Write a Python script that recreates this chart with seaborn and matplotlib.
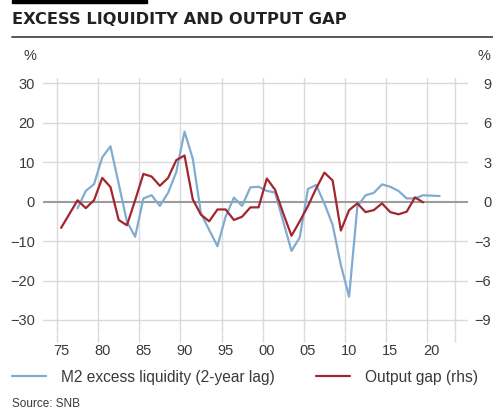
import numpy as np
import pandas as pd
import matplotlib
matplotlib.use("Agg")
import matplotlib.pyplot as plt
from matplotlib.lines import Line2D
import seaborn as sns

# -----------------------------
# data
# -----------------------------
m2_years = list(range(1977, 2022))
m2_excess = [
    -1.7, 2.7, 4.4, 11.2, 14.0, 4.5, -5.1, -8.9, 0.8, 1.6,
    -1.1, 2.2, 7.5, 17.7, 10.9, -3.0, -7.2, -11.3, -3.8, 1.0,
    -1.1, 3.6, 3.75, 2.7, 2.3, -5.1, -12.5, -9.1, 3.2, 4.2,
    -0.5, -5.9, -16.1, -24.1, -1.3, 1.6, 2.2, 4.35, 3.75, 2.7,
    0.8, 0.8, 1.6, 1.5, 1.4,
]

gap_years = list(range(1975, 2020))
output_gap = [
    -2.0, -0.95, 0.1, -0.5, 0.1, 1.8, 1.1, -1.4, -1.8, 0.1,
    2.1, 1.9, 1.2, 1.8, 3.15, 3.5, 0.17, -1.0, -1.5, -0.6,
    -0.6, -1.4, -1.15, -0.44, -0.44, 1.75, 0.9, -0.9, -2.6, -1.5,
    -0.34, 1.0, 2.2, 1.6, -2.2, -0.65, -0.14, -0.8, -0.65, -0.14,
    -0.8, -0.97, -0.77, 0.32, -0.06,
]

left_ticks = [30, 20, 10, 0, -10, -20, -30]
right_ticks = [9, 6, 3, 0, -3, -6, -9]
x_tick_years = [1975, 1980, 1985, 1990, 1995, 2000, 2005, 2010, 2015, 2020]
x_tick_labels = ["75", "80", "85", "90", "95", "00", "05", "10", "15", "20"]

BLUE = "#80acd3"
RED = "#a3262f"
GRID = "#dadada"
TEXT = "#3a3a3a"
W, H = 493, 419


def fx(px):
    return px / W


def fy(py):
    return 1 - py / H


# -----------------------------
# style
# -----------------------------
sns.set_theme(style="white")
plt.rcParams["font.family"] = ["Liberation Sans", "DejaVu Sans"]

m2 = pd.DataFrame({"year": np.array(m2_years) + 0.5, "value": m2_excess})
gap = pd.DataFrame({"year": np.array(gap_years) + 0.5, "value": output_gap})

fig = plt.figure(figsize=(W / 100, H / 100), dpi=100)
ax = fig.add_axes([fx(43), fy(335), (468 - 43) / W, (335 - 78) / H])
ax2 = ax.twinx()

ylo, yhi = -33.8, 31.3
ax.set_ylim(ylo, yhi)
ax2.set_ylim(ylo * 0.3, yhi * 0.3)
ax.set_xlim(1973.3, 2024.95)

# grid
for y in left_ticks:
    if y != 0:
        ax.axhline(y, color=GRID, lw=1.0, zorder=0)
for x in x_tick_years + [2023.4]:
    ax.axvline(x, color=GRID, lw=1.0, zorder=0)
ax.axhline(0, color="#9c9c9c", lw=1.5, zorder=1)

sns.lineplot(data=m2, x="year", y="value", ax=ax, color=BLUE, lw=1.6, zorder=3)
sns.lineplot(data=gap, x="year", y="value", ax=ax2, color=RED, lw=1.6, zorder=4)

for a in (ax, ax2):
    for s in a.spines.values():
        s.set_visible(False)
    a.set_xlabel("")
    a.set_ylabel("")

ax.set_yticks(left_ticks)
ax.set_yticklabels([str(t).replace("-", "\u2212") for t in left_ticks])
ax.tick_params(axis="y", length=0, pad=5.8, labelsize=10.5, labelcolor=TEXT)

ax2.set_yticks(right_ticks)
ax2.set_yticklabels([str(t).replace("-", "\u2212") for t in right_ticks])
ax2.tick_params(axis="y", length=0, pad=16.8, labelsize=10.5, labelcolor=TEXT)
for lbl in ax2.get_yticklabels():
    lbl.set_horizontalalignment("right")

# x: tick marks at year starts, labels at mid-year
ax.set_xticks(x_tick_years + [2023.4])
ax.set_xticklabels([""] * (len(x_tick_years) + 1))
ax.tick_params(axis="x", which="major", direction="out", length=5, width=1,
               color=GRID, bottom=True)
ax.set_xticks([y + 0.5 for y in x_tick_years], minor=True)
ax.set_xticklabels(x_tick_labels, minor=True)
ax.tick_params(axis="x", which="minor", length=0, pad=6.5, labelsize=10.5,
               labelcolor=TEXT)

# header
fig.patches.append(plt.Rectangle((fx(12), fy(3)), 135 / W, 3 / H,
                                 transform=fig.transFigure, color="black"))
fig.text(fx(12), fy(19), "EXCESS LIQUIDITY AND OUTPUT GAP", family="DejaVu Sans",
         fontsize=11.7, fontweight="bold", color="#222222", va="center", ha="left")
fig.add_artist(Line2D([fx(12), 1.0], [fy(37.3)] * 2,
                      transform=fig.transFigure, color="#4a4a4a", lw=1.3))

fig.text(fx(30), fy(56), "%", fontsize=10.5, color=TEXT, ha="center", va="center")
fig.text(fx(477), fy(56), "%", fontsize=10.5, color=TEXT, ha="left", va="center")

# legend
handles = [Line2D([], [], color=BLUE, lw=1.6), Line2D([], [], color=RED, lw=1.6)]
fig.legend(handles, ["M2 excess liquidity (2-year lag)", "Output gap (rhs)"],
           loc="center left", bbox_to_anchor=(fx(12), fy(377)), ncol=2,
           frameon=False, fontsize=11.2, handlelength=2.2, handletextpad=0.97,
           columnspacing=2.6, borderpad=0, borderaxespad=0, labelcolor=TEXT)

fig.text(fx(12), fy(404), "Source: SNB", fontsize=8.5, color=TEXT,
         ha="left", va="center")

fig.savefig("out.png", dpi=100)
